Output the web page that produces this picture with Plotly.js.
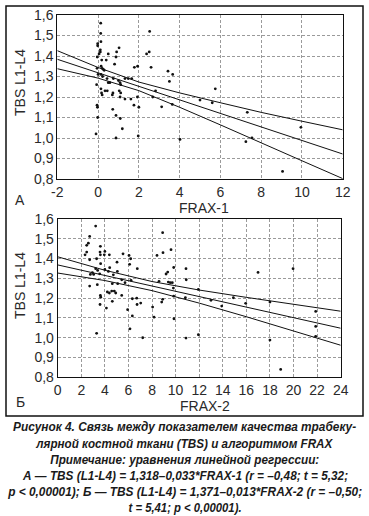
<!DOCTYPE html>
<html><head><meta charset="utf-8">
<script src="https://cdn.plot.ly/plotly-3.0.1.min.js"></script>
<style>html,body{margin:0;padding:0;background:#fff;}#chart{width:369px;height:516px;}</style>
</head><body><div id="chart"></div>
<script>
// ---- Panel A: FRAX-1 vs TBS L1-L4 ----
const frax1X = [0.13,0.13,0.14,-0.02,-0.02,0.11,0.11,0.05,0.5,0.91,1.03,-0.04,0.88,0.4,0.81,0.18,0.15,0.2,0.26,0.3,-0.05,0.0,0.14,0.22,0.44,0.5,0.58,0.75,1.0,1.08,1.11,1.32,1.48,1.65,-0.07,0.14,0.17,0.2,0.34,0.45,0.73,0.7,1.04,1.11,1.08,1.32,1.61,1.93,1.76,2.0,-0.05,-0.03,0.72,-0.02,0.88,1.09,1.19,-0.1,0.88,1.97,1.78,1.94,2.38,2.51,2.53,2.6,2.82,2.68,3.12,3.43,3.66,3.5,3.64,4.02,5.0,5.6,5.75,7.32,7.25,7.55,9.05,9.95];
const tbs1Y  = [1.56,1.51,1.47,1.46,1.45,1.43,1.42,1.41,1.41,1.42,1.44,1.395,1.395,1.38,1.36,1.38,1.35,1.34,1.335,1.33,1.34,1.31,1.31,1.30,1.29,1.27,1.27,1.29,1.28,1.27,1.26,1.29,1.29,1.29,1.26,1.24,1.22,1.21,1.23,1.23,1.22,1.21,1.23,1.22,1.20,1.19,1.19,1.20,1.16,1.15,1.16,1.15,1.14,1.10,1.11,1.095,1.045,1.02,1.0,1.01,1.345,1.35,1.41,1.42,1.52,1.345,1.23,1.20,1.152,1.326,1.31,1.276,1.164,0.993,1.185,1.172,1.24,1.125,0.982,1.001,0.837,1.052];
const fit1X     = [-2,0,2,4,6,8,10,12];
const fit1Mid   = [1.384,1.318,1.252,1.186,1.120,1.054,0.988,0.922];
const fit1Upper = [1.426,1.344,1.273,1.220,1.172,1.125,1.082,1.040];
const fit1Lower = [1.338,1.292,1.231,1.150,1.064,0.975,0.889,0.802];

// ---- Panel B: FRAX-2 vs TBS L1-L4 ----
const frax2X = [3.22,2.71,2.6,2.46,2.32,2.46,2.71,3.62,3.59,3.62,4.0,3.95,4.38,3.3,3.64,3.22,2.77,2.94,3.05,3.39,3.56,2.71,3.36,4.0,4.3,4.41,4.72,5.03,5.54,5.06,5.43,5.71,5.09,4.63,3.62,3.65,3.59,4.21,4.38,4.58,4.8,4.92,4.63,4.13,5.43,6.05,6.19,6.1,5.93,6.13,6.33,6.33,6.73,6.75,6.7,7.04,7.21,6.22,8.05,8.17,8.42,8.93,8.9,9.61,9.19,9.33,9.84,8.59,8.82,8.9,9.38,9.55,9.72,9.81,9.84,9.86,10.88,10.9,10.83,10.88,11.93,11.93,13.0,13.91,14.9,15.94,16.99,18.0,18.0,18.91,19.96,21.88,21.88,21.88,3.3];
const tbs2Y  = [1.564,1.512,1.478,1.467,1.419,1.433,1.394,1.462,1.433,1.419,1.436,1.419,1.419,1.399,1.374,1.349,1.32,1.329,1.32,1.34,1.323,1.261,1.268,1.345,1.335,1.354,1.318,1.382,1.424,1.335,1.293,1.278,1.273,1.273,1.214,1.205,1.168,1.231,1.226,1.236,1.236,1.226,1.184,1.15,1.214,1.416,1.399,1.371,1.142,1.045,1.11,1.197,1.168,1.349,1.2,1.175,1.0,1.29,1.155,1.104,1.416,1.43,1.531,1.445,1.322,1.332,1.355,1.285,1.18,1.194,1.281,1.278,1.278,1.251,1.21,1.096,1.349,1.293,1.202,0.998,1.015,1.244,1.189,1.16,1.202,1.174,1.33,1.18,0.988,0.84,1.349,1.133,1.057,1.007,1.022];
const fit2X     = [0,4,8,12,16,20,24];
const fit2Mid   = [1.368,1.315,1.261,1.208,1.155,1.101,1.048];
const fit2Upper = [1.409,1.341,1.284,1.241,1.204,1.168,1.134];
const fit2Lower = [1.327,1.289,1.238,1.175,1.106,1.034,0.962];

// ---- tick labels ----
const yTickVals  = [0.8,0.9,1.0,1.1,1.2,1.3,1.4,1.5,1.6];
const yTickText  = ['0,8','0,9','1,0','1,1','1,2','1,3','1,4','1,5','1,6'];
const x1TickVals = [-2,0,2,4,6,8,10,12];
const x1TickText = ['-2','0','2','4','6','8','10','12'];
const x2TickVals = [0,2,4,6,8,10,12,14,16,18,20,22,24];
const x2TickText = ['0','2','4','6','8','10','12','14','16','18','20','22','24'];

const yTitle = 'TBS L1-L4';
const x1Title = 'FRAX-1';
const x2Title = 'FRAX-2';
const captionLines = [
  'Рисунок 4. Связь между показателем качества трабеку-',
  'лярной костной ткани (TBS) и алгоритмом FRAX',
  'Примечание: уравнения линейной регрессии:',
  'А — TBS (L1-L4) = 1,318–0,033*FRAX-1 (r = –0,48; t = 5,32;',
  'p &lt; 0,00001); Б — TBS (L1-L4) = 1,371–0,013*FRAX-2 (r = –0,50;',
  't = 5,41; p &lt; 0,00001).'
];
const captionWidths = [343, 296, 269, 325, 354, 113];

const W = 369, H = 516;
const px = v => v / W, py = v => 1 - v / H;

const pts = (x, y, xa, ya) => ({x, y, xaxis: xa, yaxis: ya, type: 'scatter', mode: 'markers',
  marker: {color: '#111', size: 2.8}, hoverinfo: 'skip'});
const ln = (x, y, xa, ya) => ({x, y, xaxis: xa, yaxis: ya, type: 'scatter', mode: 'lines',
  line: {color: '#111', width: 1}, hoverinfo: 'skip'});

const data = [
  pts(frax1X, tbs1Y, 'x', 'y'),
  ln(fit1X, fit1Mid, 'x', 'y'), ln(fit1X, fit1Upper, 'x', 'y'), ln(fit1X, fit1Lower, 'x', 'y'),
  pts(frax2X, tbs2Y, 'x2', 'y2'),
  ln(fit2X, fit2Mid, 'x2', 'y2'), ln(fit2X, fit2Upper, 'x2', 'y2'), ln(fit2X, fit2Lower, 'x2', 'y2')
];

const tickFont = {family: 'Liberation Sans, Arial, sans-serif', size: 14, color: '#2a2a2a'};
const axBase = {
  showline: true, mirror: true, linecolor: '#111', linewidth: 1,
  showgrid: true, gridcolor: '#9a9a9a', gridwidth: 1, griddash: '3px,2px',
  zeroline: false, ticks: '', tickfont: tickFont, automargin: false, fixedrange: true
};

const layout = {
  width: W, height: H, margin: {l: 0, r: 0, t: 0, b: 0},
  paper_bgcolor: '#fff', plot_bgcolor: '#fff', showlegend: false,
  font: tickFont,
  xaxis: Object.assign({}, axBase, {domain: [px(57.3), px(342.7)], range: [-2, 12], anchor: 'y',
    tickmode: 'array', tickvals: x1TickVals, ticktext: x1TickText}),
  yaxis: Object.assign({}, axBase, {domain: [py(179), py(15)], range: [0.8, 1.6], anchor: 'x',
    tickmode: 'array', tickvals: yTickVals, ticktext: yTickText}),
  xaxis2: Object.assign({}, axBase, {domain: [px(57.7), px(340.7)], range: [0, 24], anchor: 'y2',
    tickmode: 'array', tickvals: x2TickVals, ticktext: x2TickText}),
  yaxis2: Object.assign({}, axBase, {domain: [py(377.3), py(219)], range: [0.8, 1.6], anchor: 'x2',
    tickmode: 'array', tickvals: yTickVals, ticktext: yTickText}),
  shapes: [
    {type: 'rect', xref: 'paper', yref: 'paper', x0: px(6), x1: px(363), y0: py(416), y1: py(6),
     line: {color: '#111', width: 1.5}, fillcolor: 'rgba(0,0,0,0)'}
  ],
  annotations: [
    {text: 'А', xref: 'paper', yref: 'paper', x: px(20), y: py(200), showarrow: false,
     xanchor: 'center', yanchor: 'middle', font: tickFont},
    {text: 'Б', xref: 'paper', yref: 'paper', x: px(20), y: py(402), showarrow: false,
     xanchor: 'center', yanchor: 'middle', font: tickFont},
    {text: yTitle, xref: 'paper', yref: 'paper', x: px(20), y: py(83), textangle: -90, showarrow: false,
     xanchor: 'center', yanchor: 'middle', font: tickFont},
    {text: yTitle, xref: 'paper', yref: 'paper', x: px(20), y: py(286), textangle: -90, showarrow: false,
     xanchor: 'center', yanchor: 'middle', font: tickFont},
    {text: x1Title, xref: 'paper', yref: 'paper', x: px(204), y: py(208), showarrow: false,
     xanchor: 'center', yanchor: 'middle', font: tickFont, borderpad: 0},
    {text: x2Title, xref: 'paper', yref: 'paper', x: px(205), y: py(406), showarrow: false,
     xanchor: 'center', yanchor: 'middle', font: tickFont, borderpad: 0}
  ]
};

const capStart = layout.annotations.length;
const capY = [427, 443.5, 459.5, 475.5, 491.5, 507.5];
captionLines.forEach((t, i) => {
  layout.annotations.push({text: '<b><i>' + t + '</i></b>', xref: 'paper', yref: 'paper',
    x: px(184.5), y: py(capY[i]), showarrow: false, xanchor: 'center', yanchor: 'middle',
    font: {family: 'Liberation Sans, Arial, sans-serif', size: 12, color: '#1a1a1a'}});
});

Plotly.newPlot('chart', data, layout, {staticPlot: true, displayModeBar: false}).then(gd => {
  // condense caption lines slightly, as the original uses a narrow typeface
  captionLines.forEach((t, i) => {
    const el = gd.querySelector('.annotation[data-index="' + (capStart + i) + '"] text.annotation-text');
    if (el) {
      const w = el.getComputedTextLength();
      if (w > captionWidths[i]) {
        el.setAttribute('textLength', captionWidths[i]);
        el.setAttribute('lengthAdjust', 'spacingAndGlyphs');
      }
    }
  });
});
</script>
</body></html>
